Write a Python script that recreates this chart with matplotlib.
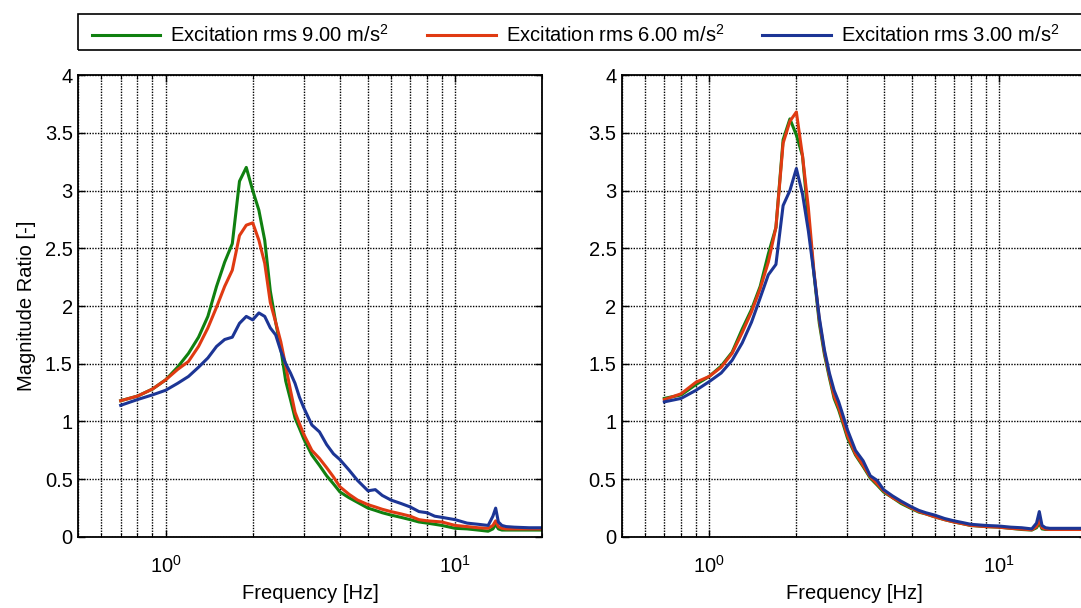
import matplotlib
matplotlib.use("Agg")
import matplotlib.pyplot as plt
from matplotlib.patches import Rectangle
from matplotlib.ticker import LogLocator, NullFormatter

plt.rcParams['font.family'] = ['Liberation Sans', 'DejaVu Sans']
plt.rcParams['mathtext.default'] = 'regular'

# frequency points [Hz]
freq = [0.70, 0.80, 0.90, 1.00, 1.10, 1.20, 1.30, 1.40, 1.50, 1.60, 1.70, 1.80, 1.90,
        2.00, 2.10, 2.20, 2.30, 2.40, 2.50, 2.60, 2.70, 2.80, 2.90, 3.00, 3.20, 3.40,
        3.60, 3.80, 4.00, 4.30, 4.60, 5.00, 5.30, 5.60, 6.00, 6.50, 7.00, 7.50, 8.00,
        8.50, 9.00, 10.0, 11.0, 12.0, 13.0, 13.5, 13.8, 14.1, 14.5, 15.0, 16.0, 18.0, 20.0]

# left panel
left_9 = [1.18, 1.22, 1.28, 1.36, 1.47, 1.59, 1.73, 1.91, 2.17, 2.38, 2.54, 3.08, 3.20,
          3.00, 2.83, 2.57, 2.13, 1.86, 1.63, 1.35, 1.19, 1.03, 0.94, 0.85, 0.71, 0.62,
          0.53, 0.46, 0.39, 0.34, 0.30, 0.25, 0.23, 0.21, 0.19, 0.17, 0.15, 0.13, 0.12,
          0.11, 0.10, 0.075, 0.07, 0.06, 0.05, 0.07, 0.11, 0.07, 0.06, 0.06, 0.06, 0.06, 0.06]
left_6 = [1.18, 1.22, 1.28, 1.36, 1.45, 1.52, 1.65, 1.81, 1.99, 2.17, 2.31, 2.61, 2.70,
          2.72, 2.57, 2.37, 2.03, 1.86, 1.69, 1.48, 1.27, 1.08, 0.98, 0.89, 0.75, 0.68,
          0.60, 0.52, 0.435, 0.37, 0.32, 0.28, 0.26, 0.24, 0.22, 0.20, 0.18, 0.15, 0.14,
          0.135, 0.13, 0.10, 0.09, 0.08, 0.075, 0.10, 0.14, 0.09, 0.075, 0.07, 0.07, 0.07, 0.07]
left_3 = [1.14, 1.19, 1.23, 1.27, 1.33, 1.39, 1.47, 1.55, 1.65, 1.71, 1.73, 1.85, 1.91,
          1.88, 1.94, 1.91, 1.81, 1.75, 1.61, 1.50, 1.42, 1.33, 1.21, 1.12, 0.97, 0.91,
          0.80, 0.72, 0.67, 0.58, 0.49, 0.40, 0.41, 0.36, 0.32, 0.29, 0.26, 0.22, 0.21,
          0.18, 0.17, 0.15, 0.12, 0.11, 0.10, 0.18, 0.25, 0.13, 0.10, 0.09, 0.085, 0.08, 0.08]

# right panel
right_9 = [1.20, 1.23, 1.32, 1.39, 1.48, 1.60, 1.80, 1.97, 2.17, 2.45, 2.68, 3.44, 3.62,
           3.48, 3.30, 2.75, 2.28, 1.85, 1.58, 1.38, 1.20, 1.10, 0.98, 0.86, 0.71, 0.61,
           0.51, 0.45, 0.39, 0.34, 0.29, 0.245, 0.215, 0.20, 0.175, 0.15, 0.13, 0.115, 0.10,
           0.095, 0.09, 0.085, 0.075, 0.065, 0.06, 0.08, 0.12, 0.07, 0.065, 0.065, 0.065, 0.065, 0.065]
right_6 = [1.19, 1.24, 1.34, 1.39, 1.47, 1.59, 1.77, 1.95, 2.15, 2.38, 2.68, 3.41, 3.60,
           3.68, 3.30, 2.85, 2.30, 1.88, 1.60, 1.40, 1.22, 1.12, 1.00, 0.88, 0.72, 0.62,
           0.52, 0.46, 0.40, 0.34, 0.30, 0.25, 0.22, 0.20, 0.175, 0.15, 0.13, 0.115, 0.10,
           0.095, 0.09, 0.085, 0.075, 0.068, 0.062, 0.09, 0.15, 0.08, 0.068, 0.065, 0.065, 0.065, 0.065]
right_3 = [1.17, 1.20, 1.27, 1.345, 1.42, 1.53, 1.68, 1.86, 2.07, 2.27, 2.36, 2.87, 3.00,
           3.19, 2.97, 2.65, 2.28, 1.90, 1.62, 1.42, 1.27, 1.17, 1.05, 0.93, 0.75, 0.66,
           0.53, 0.49, 0.41, 0.355, 0.31, 0.26, 0.23, 0.21, 0.19, 0.16, 0.14, 0.125, 0.11,
           0.105, 0.10, 0.095, 0.085, 0.08, 0.07, 0.12, 0.22, 0.10, 0.08, 0.075, 0.075, 0.075, 0.075]

labels = ['Excitation rms 9.00 m/s$^2$', 'Excitation rms 6.00 m/s$^2$', 'Excitation rms 3.00 m/s$^2$']
colors = ['#108010', '#E03A12', '#1C3595']
yticks = [0, 0.5, 1, 1.5, 2, 2.5, 3, 3.5, 4]
ytick_labels = ['0', '0.5', '1', '1.5', '2', '2.5', '3', '3.5', '4']

fs = 14.5

fig = plt.figure(figsize=(10.81, 6.08), dpi=100)
ax1 = fig.add_axes([0.0725, 0.1168, 0.4292, 0.7598])
ax2 = fig.add_axes([0.5754, 0.1168, 0.4292, 0.7598])

panels = [(ax1, [left_9, left_6, left_3]), (ax2, [right_9, right_6, right_3])]
for ax, series in panels:
    for vals, c, lab in zip(series, colors, labels):
        ax.plot(freq, vals, color=c, lw=2.2, label=lab)
    ax.set_xscale('log')
    ax.set_xlim(0.5, 20)
    ax.set_ylim(0, 4)
    ax.set_yticks(yticks)
    ax.set_yticklabels(ytick_labels)
    ax.xaxis.set_minor_locator(LogLocator(base=10, subs=range(2, 10)))
    ax.xaxis.set_minor_formatter(NullFormatter())
    ax.grid(True, which='major', color='black', linestyle=(0, (1, 1)), lw=1.0)
    ax.grid(True, which='minor', axis='x', color='black', linestyle=(0, (1, 1)), lw=1.0)
    ax.tick_params(which='both', direction='in', top=True, right=True, labelsize=fs)
    ax.tick_params(which='major', length=5, width=1)
    ax.tick_params(which='minor', length=3, width=0.8)
    ax.tick_params(axis='x', pad=13)
    ax.tick_params(axis='y', pad=4)
    for sp in ax.spines.values():
        sp.set_linewidth(1.3)
    ax.set_xlabel('Frequency [Hz]', fontsize=fs, labelpad=5)

ax1.set_ylabel('Magnitude Ratio [-]', fontsize=fs, labelpad=6)

# legend box spanning both panels (runs off the right edge like the original)
fig.add_artist(Rectangle((0.072, 0.918), 0.95, 0.059, transform=fig.transFigure,
                         fill=False, edgecolor='black', lw=1.2))
handles, labs = ax1.get_legend_handles_labels()
fig.legend(handles, labs, loc='center left', ncol=3, bbox_to_anchor=(0.085, 0.943),
           borderaxespad=0, borderpad=0, fontsize=fs, handlelength=3.4,
           handletextpad=0.5, columnspacing=1.9, frameon=False)

fig.savefig('out.png', dpi=100)
